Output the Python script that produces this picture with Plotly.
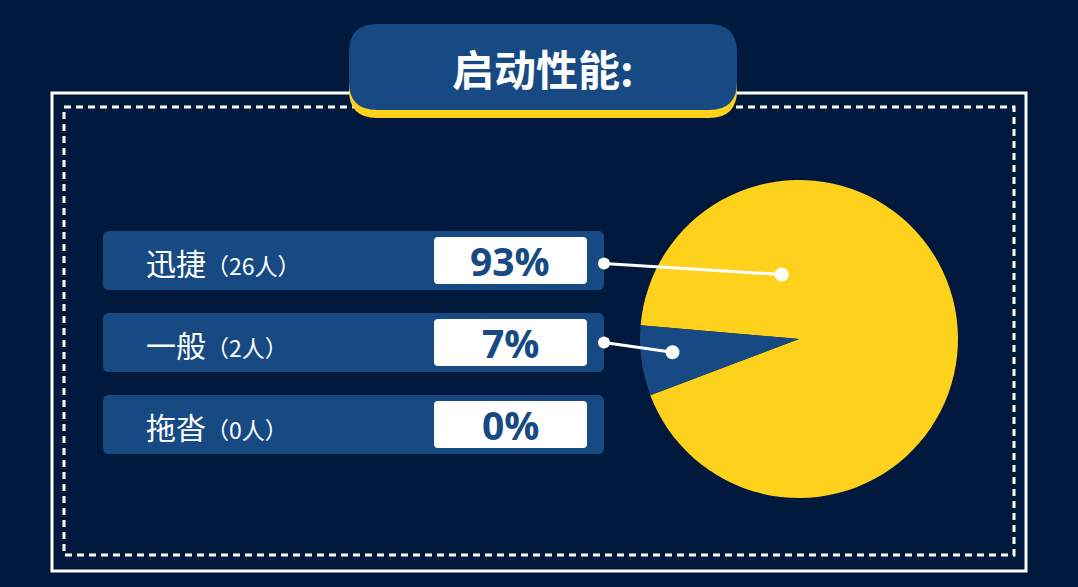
import math
import plotly.graph_objects as go

# chart data
title = "启动性能:"
categories = ["迅捷", "一般", "拖沓"]
counts = [26, 2, 0]
total = sum(counts)
percents = [round(c / total * 100) for c in counts]

# colours
bg = "#01193d"
blue = "#174a83"
yellow = "#fdd11c"
white = "#ffffff"
font_cn = "Noto Sans CJK SC"

W, H = 1078, 587

# pie geometry (px)
cx, cy, R = 799, 339, 159
# where each connector lands inside the pie: (angle deg, fraction of radius)
anchors = [(105, 0.42), (186, 0.80), None]


def rrect(x0, y0, x1, y1, r):
    """rounded rectangle svg path"""
    return (f"M{x0+r},{y0} L{x1-r},{y0} Q{x1},{y0} {x1},{y0+r} "
            f"L{x1},{y1-r} Q{x1},{y1} {x1-r},{y1} L{x0+r},{y1} "
            f"Q{x0},{y1} {x0},{y1-r} L{x0},{y0+r} Q{x0},{y0} {x0+r},{y0} Z")


fig = go.Figure()

# dummy trace so the pixel axes exist
fig.add_trace(go.Scatter(x=[0, W], y=[0, H], mode="markers",
                         marker=dict(opacity=0), hoverinfo="skip", showlegend=False))

fig.add_trace(go.Pie(
    labels=categories, values=counts, sort=False, direction="clockwise",
    rotation=-85, marker=dict(colors=[yellow, blue, blue], line=dict(width=0)),
    textinfo="none", showlegend=False,
    domain=dict(x=[(cx - R) / W, (cx + R) / W], y=[1 - (cy + R) / H, 1 - (cy - R) / H]),
))

shapes = []
annotations = []

# frames
shapes.append(dict(type="rect", x0=52, y0=93, x1=1026, y1=571,
                   line=dict(color=white, width=3)))
shapes.append(dict(type="rect", x0=64, y0=107, x1=1014, y1=555,
                   line=dict(color=white, width=3, dash="7px,5px")))

# title box with yellow shadow
shapes.append(dict(type="path", path=rrect(349, 32, 737, 118, 28),
                   fillcolor=yellow, line=dict(width=0)))
shapes.append(dict(type="path", path=rrect(349, 24, 737, 110, 28),
                   fillcolor=blue, line=dict(width=0)))
annotations.append(dict(x=543, y=67, text=f"<b>{title}</b>", showarrow=False,
                        font=dict(family=font_cn, size=42, color=white),
                        xanchor="center", yanchor="middle"))

row_top, row_h, row_step = 231, 59, 82
for i, (cat, cnt, pct) in enumerate(zip(categories, counts, percents)):
    y0 = row_top + i * row_step
    y1 = y0 + row_h
    ym = (y0 + y1) / 2
    shapes.append(dict(type="path", path=rrect(103, y0, 604, y1, 6),
                       fillcolor=blue, line=dict(width=0)))
    shapes.append(dict(type="path", path=rrect(434, y0 + 6, 587, y1 - 6, 4),
                       fillcolor=white, line=dict(width=0)))
    annotations.append(dict(
        x=144, y=ym + 1, xanchor="left", yanchor="middle", showarrow=False,
        text=f'{cat}<span style="font-size:23px">（{cnt}人）</span>',
        font=dict(family=font_cn, size=30, color=white)))
    annotations.append(dict(
        x=510, y=ym, xanchor="center", yanchor="middle", showarrow=False,
        text=f"<b>{pct}%</b>", font=dict(family="Open Sans", size=39, color=blue)))

    if anchors[i] is not None:
        ang, frac = anchors[i]
        ex = cx + frac * R * math.cos(math.radians(ang))
        ey = cy - frac * R * math.sin(math.radians(ang))
        sx, sy = 604, ym + (3 if i == 0 else 0)
        shapes.append(dict(type="line", x0=sx, y0=sy, x1=ex, y1=ey,
                           line=dict(color=white, width=3)))
        shapes.append(dict(type="circle", x0=sx - 6, y0=sy - 6, x1=sx + 6, y1=sy + 6,
                           fillcolor=white, line=dict(width=0)))
        shapes.append(dict(type="circle", x0=ex - 7, y0=ey - 7, x1=ex + 7, y1=ey + 7,
                           fillcolor=white, line=dict(width=0)))

fig.update_layout(
    width=W, height=H, autosize=False,
    margin=dict(l=0, r=0, t=0, b=0),
    paper_bgcolor=bg, plot_bgcolor=bg,
    xaxis=dict(range=[0, W], visible=False, fixedrange=True),
    yaxis=dict(range=[H, 0], visible=False, fixedrange=True),
    shapes=shapes, annotations=annotations,
)

# drop the page's default body margin so the chart sits at the window corner
fig.write_html("out.html", post_script="document.body.style.margin='0';",
               config={"displayModeBar": False})
